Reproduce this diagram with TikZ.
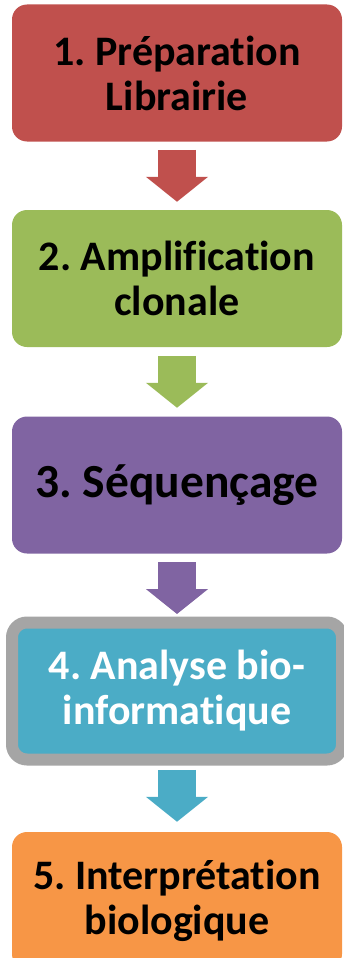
\documentclass[tikz,border=0pt]{standalone}
\usepackage{fontspec}
\setmainfont{Carlito}[Ligatures=NoCommon]
\usepackage{tikz}
\usetikzlibrary{arrows.meta}
\definecolor{rouge}{HTML}{C0504D}
\definecolor{vert}{HTML}{9BBB59}
\definecolor{violet}{HTML}{8064A2}
\definecolor{turquoise}{HTML}{4BACC6}
\definecolor{orange}{HTML}{F79646}
\definecolor{gris}{HTML}{A5A5A5}
\frenchspacing

\tikzset{
  etape/.style={fill=#1, rounded corners=15pt, minimum width=330pt,
    minimum height=137pt, text width=326pt, align=flush center, inner sep=0pt,
    outer sep=0pt, font=\bfseries\fontsize{42}{45}\selectfont},
  fleche/.style={#1, line width=38pt, -{Triangle[width=61pt, length=25pt]}}
}

\begin{document}
\begin{tikzpicture}[x=1pt, y=1pt]
            \useasboundingbox (0,0) rectangle (343,-958);

            % Les etapes
            \node[etape=rouge] (prep) at (177,-73) {1. Préparation\\Librairie};
            \node[etape=vert] (ampli) at (177,-278.5) {2. Amplification\\clonale};
            \node[etape=violet, font=\bfseries\fontsize{47.5}{50}\selectfont]
                (seq) at (177,-485) {3. Séquençage};
            \node[etape=turquoise, draw=gris, line width=12pt, text=white]
                (bioinfo) at (177,-691) {4. Analyse bio-\\informatique};
            \node[etape=orange] (interp) at (177,-900.5) {5. Interprétation\\biologique};

            % Fleches entre les etapes
            \foreach \a/\b/\c/\s in {prep/ampli/rouge/8.25, ampli/seq/vert/8.75,
                seq/bioinfo/violet/8.5, bioinfo/interp/turquoise/10.25}
                \draw[fleche=\c, shorten <=\s pt, shorten >=\s pt] (\a.south) -- (\b.north);
        \end{tikzpicture}
\end{document}
